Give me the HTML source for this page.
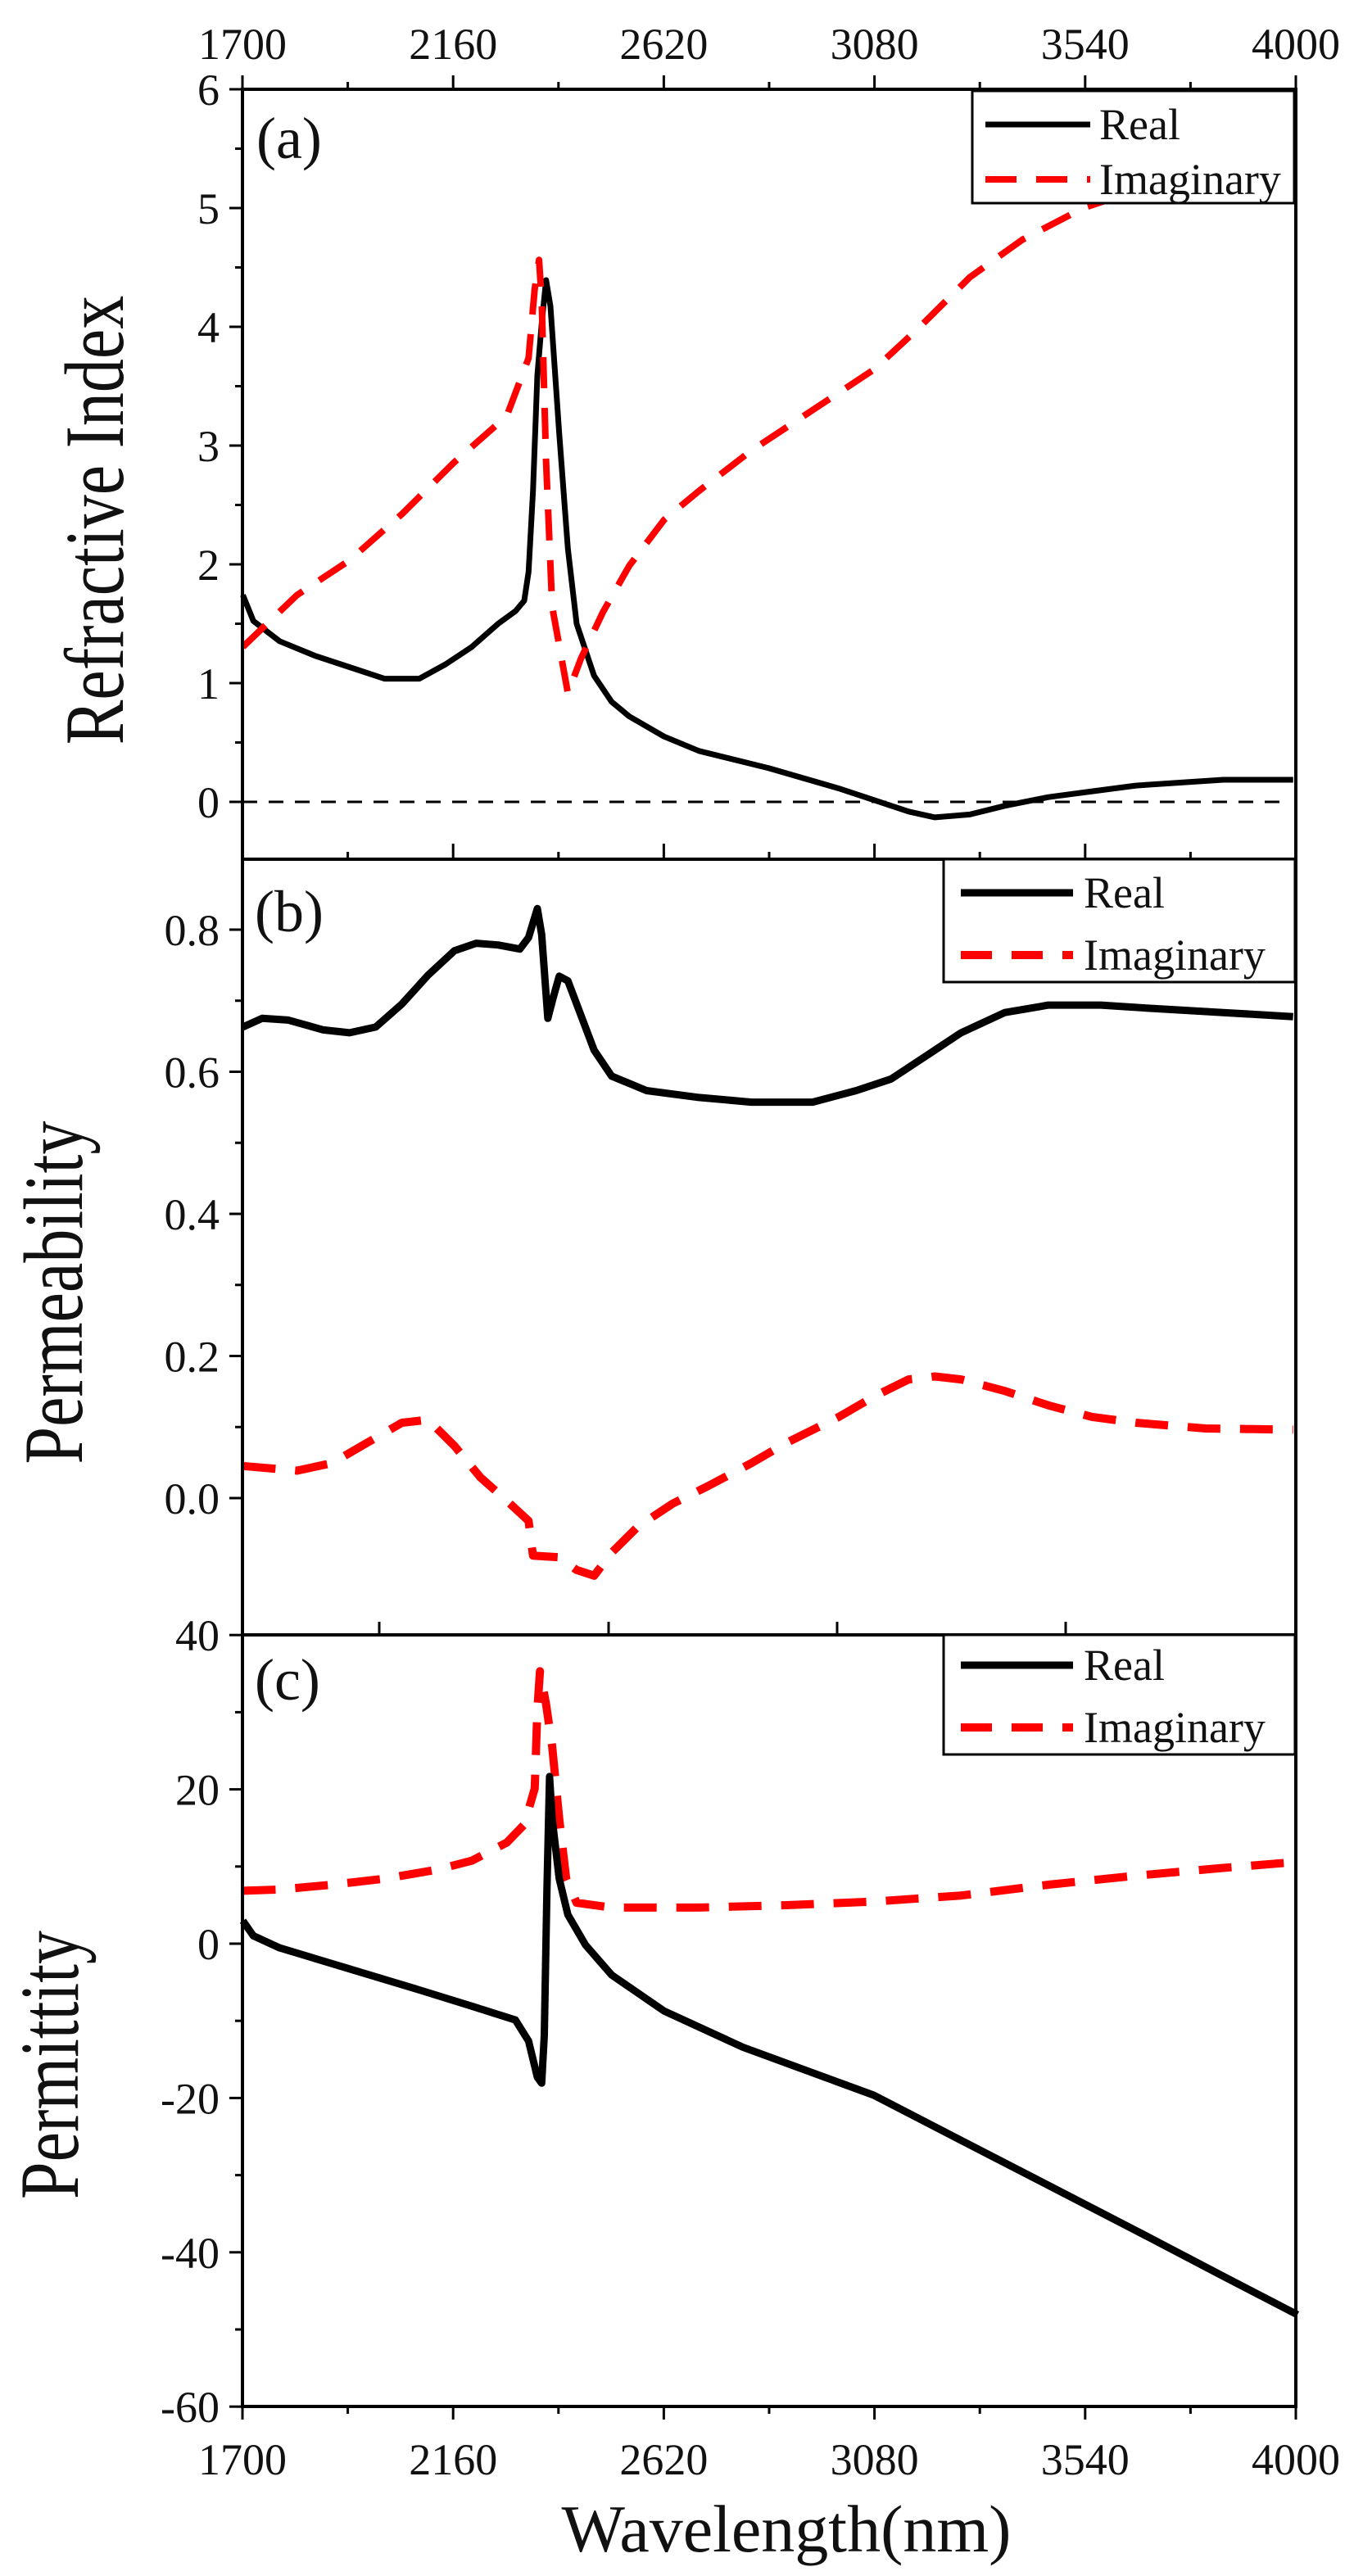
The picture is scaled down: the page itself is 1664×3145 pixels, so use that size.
<!DOCTYPE html>
<html><head><meta charset="utf-8"><style>
html,body{margin:0;padding:0;background:#fff;}
svg{display:block;font-family:"Liberation Serif",serif;}
</style></head><body>
<svg id="s" width="1664" height="3145" viewBox="0 0 1664 3145" xmlns="http://www.w3.org/2000/svg">
<rect width="1664" height="3145" fill="#fff"/>
<g id="curves"></g>
<g id="axes" stroke="#000" stroke-width="4" fill="none"></g>
<g id="txt" fill="#111"></g>
</svg>
<script>
const NS="http://www.w3.org/2000/svg";
const S=document.getElementById('s'),C=document.getElementById('curves'),A=document.getElementById('axes'),T=document.getElementById('txt');
function el(p,tag,at,txt){const e=document.createElementNS(NS,tag);for(const k in at)e.setAttribute(k,at[k]);if(txt!==undefined)e.textContent=txt;p.appendChild(e);return e;}
function poly(pts,oy,sy,style){const s=pts.map(p=>(p[0]/0.9375).toFixed(1)+','+(oy+p[1]*sy).toFixed(1)).join(' ');el(C,'polyline',Object.assign({points:s,fill:'none','stroke-linejoin':'round'},style));}
const BL={stroke:'#000','stroke-width':7};
const BL2={stroke:'#000','stroke-width':9};
const RD={stroke:'#f00','stroke-width':8,'stroke-dasharray':'38 24'};
const RD2={stroke:'#f00','stroke-width':10,'stroke-dasharray':'40 24'};
const L=296,R=1582;
const fa=1/1.418, fc=1/1.362;
// panel a
poly([[278,1030],[290,1075],[320,1110],[360,1135],[400,1155],[440,1175],[480,1175],[510,1150],[540,1120],[570,1080],[590,1058],[600,1040],[605,990],[610,850],[615,650],[620,560],[625,485],[630,530],[640,750],[650,950],[660,1080],[680,1170],[700,1215],[720,1240],[760,1275],[800,1300],[880,1330],[960,1365],[1000,1385],[1040,1405],[1070,1415],[1110,1410],[1150,1395],[1200,1380],[1250,1370],[1300,1360],[1400,1350],[1480,1350]],0,fa,BL);
poly([[278,1120],[340,1030],[400,970],[460,890],[520,800],[580,720],[605,620],[612,500],[617,450],[620,520],[625,800],[632,1050],[650,1200],[665,1140],[690,1060],[720,980],[760,900],[800,850],[860,780],[930,710],[1000,640],[1050,570],[1110,480],[1170,415],[1240,360],[1300,330],[1480,290]],0,fa,RD);
el(C,'line',{x1:L,y1:979,x2:R-10,y2:979,stroke:'#000','stroke-width':3,'stroke-dasharray':'18 14'});
// panel b
poly([[278,360],[300,345],[330,348],[370,365],[400,370],[430,360],[460,320],[490,270],[520,228],[545,215],[570,218],[595,225],[605,205],[615,155],[620,200],[627,345],[633,310],[640,272],[650,280],[665,340],[680,400],[700,445],[740,470],[800,482],[860,490],[930,490],[980,470],[1020,450],[1060,410],[1100,370],[1150,335],[1200,322],[1260,322],[1320,328],[1400,335],[1480,342]],1000,fa,BL2);
poly([[278,1120],[340,1128],[380,1115],[420,1080],[460,1045],[490,1040],[520,1085],[550,1140],[580,1180],[605,1215],[610,1275],[640,1278],[660,1300],[680,1310],[700,1270],[730,1225],[770,1185],[810,1155],[860,1115],[900,1080],[960,1035],[1000,1000],[1040,970],[1070,965],[1100,970],[1150,990],[1200,1015],[1250,1035],[1300,1045],[1380,1055],[1480,1057]],1000,fa,RD2);
// panel c
poly([[278,420],[320,418],[380,410],[440,400],[500,385],[540,370],[580,340],[600,310],[612,250],[615,120],[618,55],[625,110],[632,180],[640,300],[648,400],[660,440],[700,448],[800,448],[900,444],[1000,438],[1100,428],[1200,410],[1300,395],[1400,382],[1485,372]],2000,fc,RD2);
poly([[278,470],[290,495],[320,515],[400,550],[480,585],[540,612],[590,635],[605,670],[615,730],[620,740],[623,660],[626,420],[629,230],[632,300],[640,400],[650,460],[670,510],[700,560],[760,620],[850,680],[1000,760],[1100,835],[1200,910],[1300,985],[1400,1061],[1485,1125]],2000,fc,BL2);
// axes boxes
const panels=[[109,1049],[1049,1996],[1996,2938]];
panels.forEach(p=>el(A,'rect',{x:L,y:p[0],width:R-L,height:p[1]-p[0]}));
const xs=[];for(let i=0;i<=10;i++)xs.push(L+i*(R-L)/10);
xs.forEach((x,i)=>el(A,'line',{x1:x,y1:109,x2:x,y2:i%2?100:92,'stroke-width':3}));
xs.forEach((x,i)=>el(A,'line',{x1:x,y1:1049,x2:x,y2:i%2?1040:1030,'stroke-width':3}));
[463,743,1022,1301].forEach(x=>el(A,'line',{x1:x,y1:1996,x2:x,y2:1980,'stroke-width':3}));
xs.forEach((x,i)=>el(A,'line',{x1:x,y1:2938,x2:x,y2:i%2?2947:2954,'stroke-width':3}));
function yt(vals,f,lab){vals.forEach(v=>{const y=f(v);const maj=lab(v)!==null;el(A,'line',{x1:L,y1:y,x2:L-(maj?16:9),y2:y,'stroke-width':3});if(maj)el(T,'text',{x:268,y:y+19,'font-size':54,'text-anchor':'end'},lab(v));});}
const ra=[];for(let v=0;v<=12;v++)ra.push(v/2);
yt(ra,v=>979-145*v,v=>Number.isInteger(v)?String(v):null);
const rb=[];for(let v=0;v<=8;v++)rb.push(v/10);
yt(rb,v=>1829-867.5*v,v=>(Math.round(v*10)%2===0)?v.toFixed(1):null);
const rc=[];for(let v=-60;v<=40;v+=10)rc.push(v);
yt(rc,v=>2373-9.42*v,v=>(v%20===0)?String(v):null);
const xl=['1700','2160','2620','3080','3540','4000'];
xl.forEach((t,i)=>{const x=L+i*(R-L)/5;el(T,'text',{x:x,y:72,'font-size':54,'text-anchor':'middle'},t);el(T,'text',{x:x,y:3021,'font-size':54,'text-anchor':'middle'},t);});
el(T,'text',{x:960,y:3115,'font-size':82,'text-anchor':'middle'},'Wavelength(nm)');
function ylab(x,y,t){el(T,'text',{x:0,y:0,'font-size':82,'text-anchor':'middle',transform:`translate(${x},${y}) rotate(-90) scale(1,1.25)`},t);}
ylab(150,635,'Refractive Index');ylab(100,1578,'Permeability');ylab(95,2521,'Permittity');
el(T,'text',{x:313,y:193,'font-size':72},'(a)');
el(T,'text',{x:311,y:1137,'font-size':72},'(b)');
el(T,'text',{x:311,y:2075,'font-size':72},'(c)');
function leg(x1,y1,x2,y2,yr,yi,lx1,lx2,tx,w){el(S,'rect',{x:x1,y:y1,width:x2-x1,height:y2-y1,fill:'#fff',stroke:'#000','stroke-width':3});
el(S,'line',{x1:lx1,y1:yr,x2:lx2,y2:yr,stroke:'#000','stroke-width':w});
el(S,'line',{x1:lx1,y1:yi,x2:lx2,y2:yi,stroke:'#f00','stroke-width':w+1,'stroke-dasharray':'38 24'});
el(S,'text',{x:tx,y:yr+18,'font-size':54,fill:'#111'},'Real');el(S,'text',{x:tx,y:yi+18,'font-size':54,fill:'#111'},'Imaginary');}
leg(1187,111,1580,248,152,219,1203,1331,1342,7);
leg(1152,1049,1581,1199,1090,1166,1173,1310,1323,9);
leg(1152,1996,1581,2142,2033,2109,1173,1310,1323,9);
</script>
</body></html>
